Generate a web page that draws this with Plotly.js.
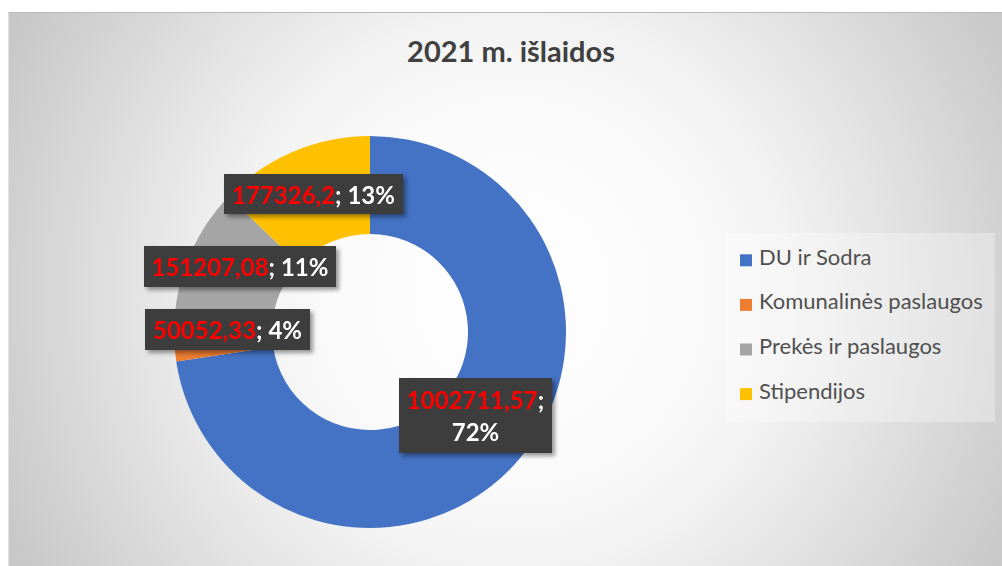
<!DOCTYPE html>
<html>
<head>
<meta charset="utf-8">
<script src="https://cdn.plot.ly/plotly-3.0.1.min.js"></script>
<style>
  html, body { margin: 0; padding: 0; background: #ffffff; overflow: hidden; }
  #bg {
    position: absolute; left: 8px; top: 12px; width: 1006px; height: 570px;
    background: radial-gradient(circle farthest-corner at 50% 49%, #ffffff 0%, #fbfbfb 30%, #f2f2f2 48%, #e6e6e6 62%, #d6d6d6 80%, #c5c5c5 100%);
    border-top: 1px solid #b9b9b9;
    border-left: 1px solid #e2e2e2;
  }
  #chart { position: absolute; left: 0; top: 0; width: 1002px; height: 566px; }
  .legendtext { font-size: 22px !important; transform: translate(-7px, -8px); }
  .annotation-text-g { filter: drop-shadow(3px 3px 2px rgba(0,0,0,0.40)); }
</style>
</head>
<body>
<div id="bg"></div>
<div id="chart"></div>
<script>
// ---- data ----
var categories = ["DU ir Sodra", "Komunalinės paslaugos", "Prekės ir paslaugos", "Stipendijos"];
var amounts = [1002711.57, 50052.33, 151207.08, 177326.2];
var percentLabels = [72, 4, 11, 13];
var sliceColors = ["#4472C4", "#ED7D31", "#A5A5A5", "#FFC000"];
var chartTitle = "2021 m. išlaidos";

// ---- label placement (pixels in 1002x566 page) ----
var W = 1002, H = 566;
var labelBoxes = [
  {cx: 475.5, cy: 415.5, w: 153, h: 75, breakLine: true},
  {cx: 227.5, cy: 329.5, w: 165, h: 41},
  {cx: 240,   cy: 266.5, w: 192, h: 41},
  {cx: 313.5, cy: 194,   w: 179, h: 40}
];

function fmt(v) { return String(v).replace('.', ','); }

var annotations = categories.map(function (c, i) {
  var b = labelBoxes[i];
  var txt = '<span style="color:#FF0000">' + fmt(amounts[i]) + '</span>;' +
            (b.breakLine ? '<br>' : ' ') + percentLabels[i] + '%';
  return {
    xref: 'paper', yref: 'paper',
    x: b.cx / W, y: 1 - b.cy / H,
    xanchor: 'center', yanchor: 'middle',
    text: txt, showarrow: false,
    width: b.w, height: b.h,
    align: 'center', valign: 'middle',
    bgcolor: '#3d3d3d', borderpad: 0, borderwidth: 0,
    font: {family: 'Lato, "Open Sans", sans-serif', size: 24, color: '#FFFFFF', weight: 'bold'}
  };
});

var trace = {
  type: 'pie',
  labels: categories,
  values: amounts,
  hole: 0.5,
  sort: false,
  direction: 'clockwise',
  rotation: 0,
  textinfo: 'none',
  hoverinfo: 'label+value+percent',
  marker: {colors: sliceColors, line: {width: 0}},
  domain: {x: [174 / W, 566 / W], y: [(H - 528) / H, (H - 136) / H]},
  automargin: false
};

var layout = {
  width: W, height: H,
  margin: {l: 0, r: 0, t: 0, b: 0},
  paper_bgcolor: 'rgba(0,0,0,0)',
  plot_bgcolor: 'rgba(0,0,0,0)',
  title: {
    text: chartTitle,
    x: 511 / W, xanchor: 'center',
    y: 1 - 52 / H, yanchor: 'middle',
    font: {family: 'Lato, "Open Sans", sans-serif', size: 29, color: '#404040', weight: 'bold'}
  },
  showlegend: true,
  legend: {
    orientation: 'v',
    x: 726 / W, xanchor: 'left',
    y: 1 - 233 / H, yanchor: 'top',
    bgcolor: 'rgba(255,255,255,0.3)',
    borderwidth: 0,
    font: {family: 'Lato, "Open Sans", sans-serif', size: 32, color: '#505050'}
  },
  annotations: annotations
};

Plotly.newPlot('chart', [trace], layout, {displayModeBar: false, responsive: false});
</script>
</body>
</html>
